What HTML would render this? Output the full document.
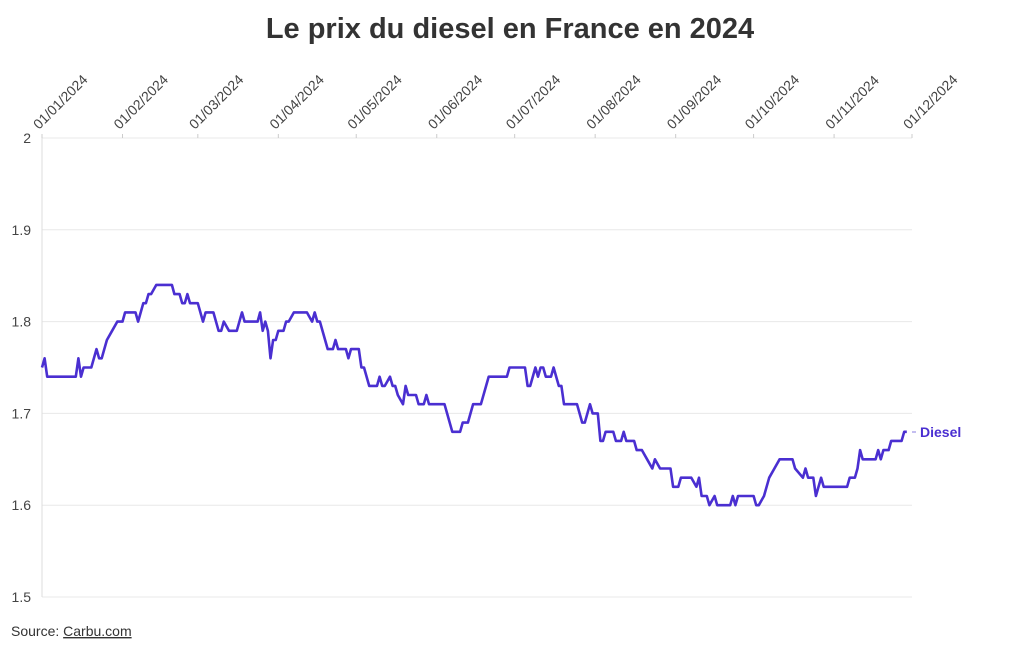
<!DOCTYPE html>
<html><head><meta charset="utf-8"><style>
body{margin:0;background:#fff;font-family:"Liberation Sans",sans-serif;}
svg{display:block}
</style></head><body>
<svg id="chart" width="1020" height="650" viewBox="0 0 1020 650" xmlns="http://www.w3.org/2000/svg">
<text x="510" y="38" text-anchor="middle" font-size="29" font-weight="bold" fill="#333">Le prix du diesel en France en 2024</text>
<g id="grid"></g>
<g id="xaxis"></g>
<g id="yaxis"></g>
<path id="line" fill="none" stroke="#4a2fd1" stroke-width="2.6" stroke-linejoin="round"/>
<line x1="912" y1="432" x2="916" y2="432" stroke="#8a7ee0" stroke-width="1"/>
<text x="920" y="437" font-size="14" font-weight="bold" fill="#4a2fd1">Diesel</text>
<text x="11" y="636" font-size="14" fill="#333">Source: <tspan text-decoration="underline">Carbu.com</tspan></text>
</svg>
<script>
const xTickLabels=["01/01/2024","01/02/2024","01/03/2024","01/04/2024","01/05/2024","01/06/2024","01/07/2024","01/08/2024","01/09/2024","01/10/2024","01/11/2024","01/12/2024"];
const xTickDays=[0,31,60,91,121,152,182,213,244,274,305,335];
const yTicks=[1.5,1.6,1.7,1.8,1.9,2];
const days=[0,1,2,13,14,15,16,19,21,22,23,24,25,27,29,31,32,36,37,39,40,41,42,44,50,51,53,54,55,56,57,60,62,63,66,68,69,70,72,75,77,78,83,84,85,86,87,88,89,90,91,93,94,95,97,102,104,105,106,107,110,112,113,114,117,118,119,122,123,124,126,129,130,131,132,134,135,136,137,139,140,141,144,145,147,148,149,155,156,158,161,162,164,165,166,169,171,172,174,179,180,186,187,188,190,191,192,193,194,196,197,199,200,201,206,208,209,211,212,214,215,216,217,220,221,223,224,225,228,229,231,233,235,236,238,242,243,245,246,250,252,253,254,256,257,259,260,265,266,267,268,274,275,276,278,279,280,282,284,289,290,293,294,295,297,298,300,301,310,311,313,314,315,316,321,322,323,324,326,327,331,332,333];
const prices=[1.75,1.76,1.74,1.74,1.76,1.74,1.75,1.75,1.77,1.76,1.76,1.77,1.78,1.79,1.80,1.80,1.81,1.81,1.80,1.82,1.82,1.83,1.83,1.84,1.84,1.83,1.83,1.82,1.82,1.83,1.82,1.82,1.80,1.81,1.81,1.79,1.79,1.80,1.79,1.79,1.81,1.80,1.80,1.81,1.79,1.80,1.79,1.76,1.78,1.78,1.79,1.79,1.80,1.80,1.81,1.81,1.80,1.81,1.80,1.80,1.77,1.77,1.78,1.77,1.77,1.76,1.77,1.77,1.75,1.75,1.73,1.73,1.74,1.73,1.73,1.74,1.73,1.73,1.72,1.71,1.73,1.72,1.72,1.71,1.71,1.72,1.71,1.71,1.70,1.68,1.68,1.69,1.69,1.70,1.71,1.71,1.73,1.74,1.74,1.74,1.75,1.75,1.73,1.73,1.75,1.74,1.75,1.75,1.74,1.74,1.75,1.73,1.73,1.71,1.71,1.69,1.69,1.71,1.70,1.70,1.67,1.67,1.68,1.68,1.67,1.67,1.68,1.67,1.67,1.66,1.66,1.65,1.64,1.65,1.64,1.64,1.62,1.62,1.63,1.63,1.62,1.63,1.61,1.61,1.60,1.61,1.60,1.60,1.61,1.60,1.61,1.61,1.60,1.60,1.61,1.62,1.63,1.64,1.65,1.65,1.64,1.63,1.64,1.63,1.63,1.61,1.63,1.62,1.62,1.63,1.63,1.64,1.66,1.65,1.65,1.66,1.65,1.66,1.66,1.67,1.67,1.68,1.68];
const X0=42,X1=912,Y0=597,Y1=138;
const xScale=d=>X0+d*(X1-X0)/335;
const yScale=v=>Y0-(v-1.5)*(Y0-Y1)/0.5;
const NS="http://www.w3.org/2000/svg";
const grid=document.getElementById('grid'),xa=document.getElementById('xaxis'),ya=document.getElementById('yaxis');
yTicks.forEach(v=>{
  const l=document.createElementNS(NS,'line');
  
  
  l.setAttribute('x1',X0);l.setAttribute('x2',X1);l.setAttribute('y1',yScale(v));l.setAttribute('y2',yScale(v));
  l.setAttribute('stroke','#e8e8e8');grid.appendChild(l);
  const t=document.createElementNS(NS,'text');
  
  
  t.setAttribute('x',31);t.setAttribute('y',yScale(v)+5);t.setAttribute('text-anchor','end');
  t.setAttribute('font-size','14');t.setAttribute('fill','#444');t.textContent=String(v);ya.appendChild(t);
});
const ax=document.createElementNS(NS,'line');


ax.setAttribute('x1',X0);ax.setAttribute('x2',X0);ax.setAttribute('y1',Y1);ax.setAttribute('y2',Y0);ax.setAttribute('stroke','#ddd');grid.appendChild(ax);
xTickDays.forEach((d,i)=>{
  const x=xScale(d);
  const l=document.createElementNS(NS,'line');
  
  
  l.setAttribute('x1',x);l.setAttribute('x2',x);l.setAttribute('y1',Y1-4);l.setAttribute('y2',Y1);l.setAttribute('stroke','#ccc');xa.appendChild(l);
  const t=document.createElementNS(NS,'text');
  
  
  t.setAttribute('transform','translate('+(x-3)+','+(Y1-8)+') rotate(-45)');
  t.setAttribute('font-size','14');t.setAttribute('fill','#444');t.textContent=xTickLabels[i];xa.appendChild(t);
});
document.getElementById('line').setAttribute('d',days.map((d,i)=>(i?'L':'M')+xScale(d).toFixed(1)+','+yScale(prices[i]).toFixed(1)).join(''));
</script>
</body></html>
